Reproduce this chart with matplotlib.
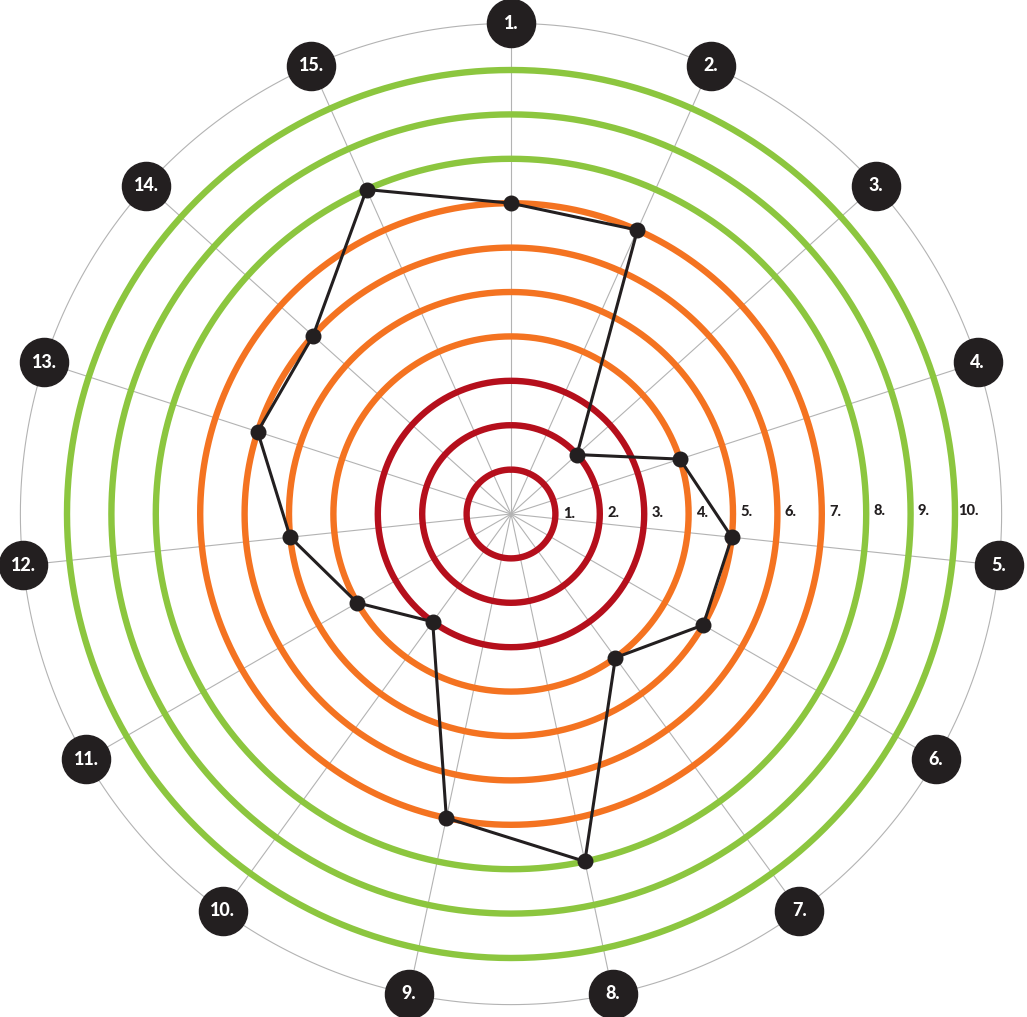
import numpy as np
import matplotlib
matplotlib.use("Agg")
import matplotlib.pyplot as plt

# Data
axis_labels = ["1.", "2.", "3.", "4.", "5.", "6.", "7.", "8.", "9.", "10.", "11.", "12.", "13.", "14.", "15."]
values = [7, 7, 2, 4, 5, 5, 4, 8, 7, 3, 4, 5, 6, 6, 8]
ring_levels = [1, 2, 3, 4, 5, 6, 7, 8, 9, 10]
ring_labels = ["1.", "2.", "3.", "4.", "5.", "6.", "7.", "8.", "9.", "10."]
ring_colors = ["#b50f1c"] * 3 + ["#f47321"] * 4 + ["#8cc63f"] * 3

W, H = 1027, 1017
fig = plt.figure(figsize=(W / 100, H / 100), dpi=100)
unit = 44.4
rmax = 11.6
R = rmax * unit
cx, cy = 511, H - 514
ax = fig.add_axes([(cx - R) / W, (cy - R) / H, 2 * R / W, 2 * R / H], projection="polar")
ax.set_theta_zero_location("N")
ax.set_theta_direction(-1)
ax.set_ylim(0, rmax)
ax.axis("off")

n = len(axis_labels)
angles = np.arange(n) * 2 * np.pi / n
full = np.linspace(0, 2 * np.pi, 721)
outer = 11.05

# spokes and outer circle
for a in angles:
    ax.plot([a, a], [0, outer], color="#b3b3b3", lw=0.8, zorder=1)
ax.plot(full, np.full_like(full, outer), color="#b3b3b3", lw=0.8, zorder=1)

# rings
for lvl, col in zip(ring_levels, ring_colors):
    ax.plot(full, np.full_like(full, lvl), color=col, lw=4.6, zorder=2, solid_capstyle="butt")

# ring labels
for lvl, lab in zip(ring_levels, ring_labels):
    ax.text(np.deg2rad(89.6), lvl + 0.3, lab, ha="center", va="center",
            fontsize=10.5, fontweight="black", family="Lato", color="#231f20", zorder=3)

# data polygon
th = np.append(angles, angles[0])
vv = np.append(values, values[0])
ax.plot(th, vv, color="#231f20", lw=2.2, zorder=4)
ax.scatter(angles, values, s=110, color="#231f20", zorder=5)

# axis labels in black circles
ax.scatter(angles, np.full(n, outer), s=1200, color="#231f20", zorder=6, clip_on=False)
for a, lab in zip(angles, axis_labels):
    ax.text(a, outer, lab, ha="center", va="center", color="white",
            fontsize=13, fontweight="black", family="Lato", zorder=7, clip_on=False)

fig.savefig("out.png", dpi=100)
